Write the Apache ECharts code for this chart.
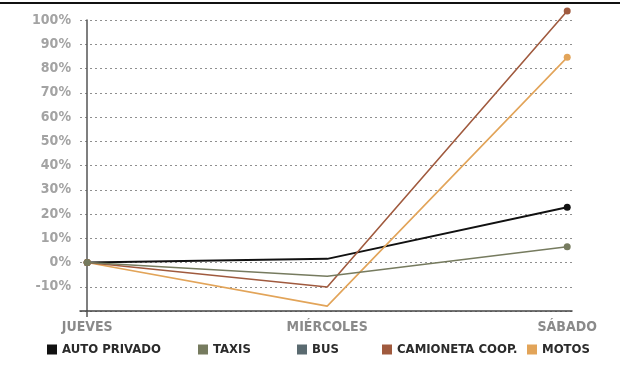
<!DOCTYPE html>
<html>
<head>
<meta charset="utf-8">
<script src="https://cdn.jsdelivr.net/npm/echarts@6/dist/echarts.min.js"></script>
<style>
  html, body { margin: 0; padding: 0; background: #fff; }
  #chart { width: 620px; height: 365px; }
</style>
</head>
<body>
<div id="chart"></div>
<script>
// datos (variacion %)
const days = ['JUEVES', 'MIÉRCOLES', 'SÁBADO'];
const autoPrivado = [0, 1.5, 22.8];
const taxis = [0, -5.7, 6.5];
const bus = [0, null, null];
const camioneta = [0, -10.1, 103.7];
const motos = [0, -18, 84.6];

const names = ['AUTO PRIVADO', 'TAXIS', 'BUS', 'CAMIONETA COOP.', 'MOTOS'];
const colors = ['#111111', '#767b5f', '#5a6a70', '#a05a3e', '#e2a459'];
const legendLeft = [42, 193, 292, 377, 522];

const font = '"Liberation Sans Narrow", "DejaVu Sans Condensed", sans-serif';

function mkSeries(name, data, color, width, z) {
  return {
    name: name,
    type: 'line',
    z: z || 2,
    // sin marcador en el punto del medio
    data: data.map((v, i) => ({
      value: [i, v],
      symbol: i === 1 ? 'none' : 'circle',
    })),
    symbolSize: 7,
    showAllSymbol: true,
    clip: false,
    lineStyle: { color: color, width: width || 1.6 },
    itemStyle: { color: color },
    emphasis: { disabled: true },
  };
}

const myechart = echarts.init(document.getElementById('chart'));
const option = {
  animation: false,
  color: colors,
  grid: { left: 80, right: 48, top: 20, bottom: 54 },
  legend: names.map((n, i) => ({
    bottom: 4,
    left: legendLeft[i],
    icon: 'rect',
    itemWidth: 10,
    itemHeight: 10,
    itemGap: 0,
    textStyle: { fontFamily: font, fontWeight: 'bold', fontSize: 13, color: '#2b2b2b' },
    data: [n],
  })),
  xAxis: {
    type: 'value',
    min: -0.03,
    max: 2.02,
    splitLine: { show: false },
    axisLine: { onZero: false, lineStyle: { color: '#444', width: 1.5 } },
    axisTick: { show: true, customValues: [0], length: 6, lineStyle: { color: '#555', width: 1.5 } },
    axisLabel: {
      customValues: [0, 1, 2],
      formatter: (v) => days[Math.round(v)],
      margin: 9,
      fontFamily: font,
      fontWeight: 'bold',
      fontSize: 14,
      color: '#8a8a8a',
    },
  },
  yAxis: {
    type: 'value',
    min: -20,
    max: 100,
    interval: 10,
    offset: -7,
    axisLine: { show: true, lineStyle: { color: '#555', width: 1.5 } },
    axisTick: { show: false },
    axisLabel: {
      margin: 16,
      fontFamily: font,
      fontWeight: 'bold',
      fontSize: 14,
      color: '#a3a3a3',
      formatter: (v) => (v === -20 ? '' : v + '%'),
    },
    splitLine: { lineStyle: { color: '#8f8f8f', type: [2, 3], width: 1.2 } },
  },
  series: [
    mkSeries(names[0], autoPrivado, colors[0], 2),
    mkSeries(names[1], taxis, colors[1], 1.6, 4),
    mkSeries(names[2], bus, colors[2]),
    mkSeries(names[3], camioneta, colors[3], 1.6, 3),
    mkSeries(names[4], motos, colors[4]),
  ],
  graphic: [
    { type: 'rect', left: 0, top: 2, shape: { width: 620, height: 2 }, style: { fill: '#111' } },
  ],
};
myechart.setOption(option);
</script>
</body>
</html>
